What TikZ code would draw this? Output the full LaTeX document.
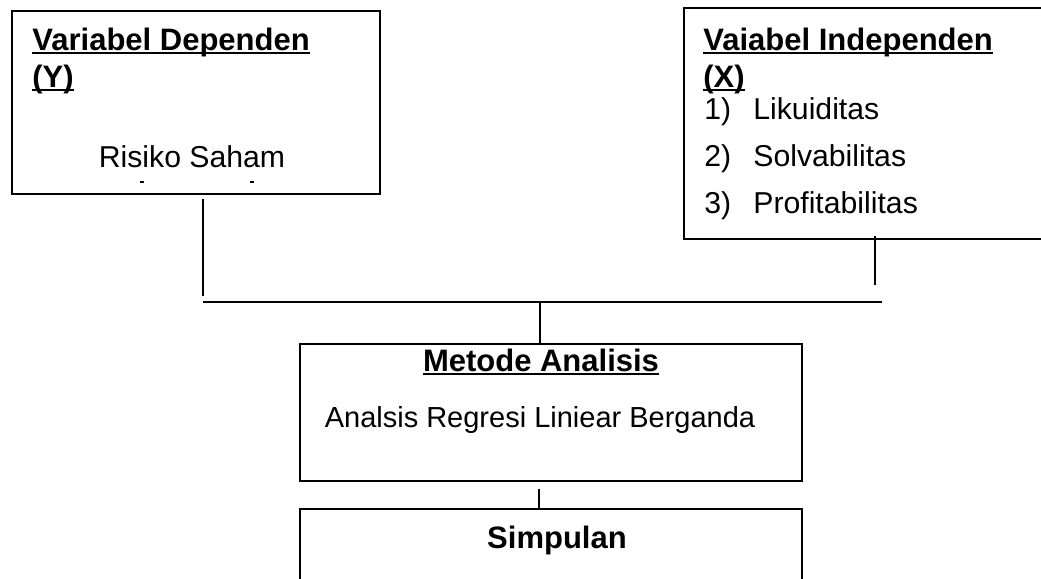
\documentclass[tikz,border=0pt]{standalone}
\usepackage{fontspec}
\setmainfont{Liberation Sans}
\newcommand{\myul}[1]{\leavevmode\setbox0\hbox{#1}\rlap{\vrule width\wd0 height -0.8pt depth 1.9pt}\box0}
\tikzset{
  box/.style={draw, line width=1.2pt, inner sep=0pt, anchor=north west},
  conn/.style={line width=0.95pt},
  hd/.style={font=\fontsize{15.5}{18}\selectfont\bfseries, inner sep=0pt, anchor=base west},
  tx/.style={font=\fontsize{15.1}{18}\selectfont, inner sep=0pt, anchor=base west},
  txs/.style={font=\fontsize{14.5}{18}\selectfont, inner sep=0pt, anchor=base},
}
\begin{document}
\begin{tikzpicture}[x=0.5pt,y=-0.5pt]
\path[use as bounding box] (0,0) rectangle (1041,579);
\clip (0,0) rectangle (1041,579);
% boxes
\node[box, minimum width=184pt, minimum height=91.5pt] (dep) at (11,10) {};
\node[box, minimum width=181pt, minimum height=115.5pt] (ind) at (683,7) {};
\node[box, minimum width=251pt, minimum height=68.5pt] (met) at (299,343) {};
\node[box, minimum width=251pt, minimum height=50pt] (sim) at (299,508) {};
% left box text
\node[hd] (depT1) at (32,50) {\myul{Variabel Dependen}};
\node[hd] (depT2) at (32,87) {\myul{(Y)}};
\node[tx, anchor=base] (depV) at (192,167) {Risiko Saham};
\fill (140,181) rectangle (144,183);
\fill (250,181) rectangle (254,183);
% right box text
\node[hd] (indT1) at (703,50) {\myul{Vaiabel Independen}};
\node[hd] (indT2) at (703,87) {\myul{(X)}};
\node[tx] (n1) at (704,119) {1)};
\node[tx] (i1) at (753,119) {Likuiditas};
\node[tx] (n2) at (704,166) {2)};
\node[tx] (i2) at (753,166) {Solvabilitas};
\node[tx] (n3) at (704,213) {3)};
\node[tx] (i3) at (753,213) {Profitabilitas};
% middle box text
\node[hd, anchor=base] (metT) at (541,371) {\myul{Metode Analisis}};
\node[txs] (metV) at (540,427) {Analsis Regresi Liniear Berganda};
% bottom box text
\node[hd, anchor=base] (simT) at (557,548) {Simpulan};
% connector ends
\coordinate (a1) at (203,199);
\coordinate (a2) at (203,296);
\coordinate (h1) at (203,302);
\coordinate (h2) at (882,302);
\coordinate (b1) at (875,236);
\coordinate (b2) at (875,285);
\coordinate (m1) at (540,302);
\coordinate (m2) at (540,343);
\coordinate (s1) at (539,489);
\coordinate (s2) at (539,510);
\draw[conn] (a1) -- (a2);
\draw[conn] (h1) -- (h2);
\draw[conn] (b1) -- (b2);
\draw[conn] (m1) -- (m2);
\draw[conn] (s1) -- (s2);
\end{tikzpicture}
\end{document}
